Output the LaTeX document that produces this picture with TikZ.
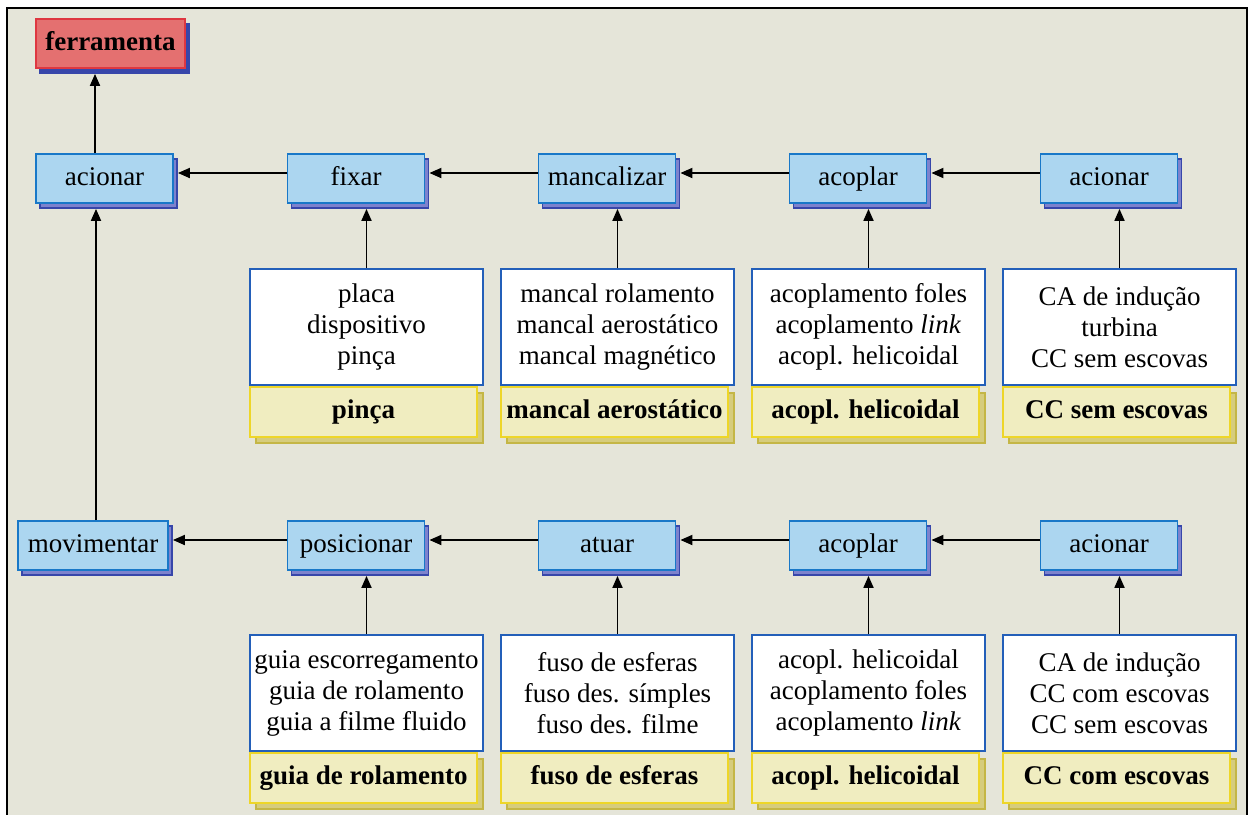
\documentclass[tikz,border=0pt]{standalone}
\usepackage{fontspec}
\setmainfont{Liberation Serif}
\usepackage{tikz}
\usetikzlibrary{positioning,arrows.meta,shadows}
\definecolor{paperc}{RGB}{229,229,217}
\definecolor{funcc}{RGB}{172,214,240}
\definecolor{funcline}{RGB}{25,120,200}
\definecolor{funcshade}{RGB}{125,130,205}
\definecolor{funcshadeline}{RGB}{55,70,170}
\definecolor{toolc}{RGB}{228,112,112}
\definecolor{toolline}{RGB}{222,55,65}
\definecolor{optline}{RGB}{35,95,185}
\definecolor{pickc}{RGB}{240,237,192}
\definecolor{pickline}{RGB}{238,214,40}
\definecolor{pickshade}{RGB}{214,204,125}
\definecolor{pickshadeline}{RGB}{196,182,70}
\tikzset{
  txt/.style      = {font=\fontsize{13.5}{15.5}\selectfont, align=center, inner sep=0pt},
  oneline/.style  = {text height=9.5pt, text depth=3pt},
  func/.style     = {txt, oneline, draw=funcline, line width=0.9pt, fill=funcc,
                     minimum width=68.5pt, minimum height=24.5pt,
                     copy shadow={shadow xshift=2pt, shadow yshift=-2.5pt,
                                  fill=funcshade, draw=funcshadeline, line width=0.8pt}},
  tool/.style     = {txt, oneline, font=\fontsize{13.5}{15.5}\selectfont\bfseries,
                     draw=toolline, line width=0.9pt, fill=toolc,
                     minimum width=74.5pt, minimum height=24.5pt,
                     copy shadow={shadow xshift=2pt, shadow yshift=-2.5pt,
                                  fill=funcshadeline, draw=funcshadeline}},
  options/.style  = {txt, draw=optline, line width=0.9pt, fill=white,
                     minimum width=116.5pt, minimum height=58pt},
  pick/.style     = {txt, oneline, font=\fontsize{13.5}{15.5}\selectfont\bfseries,
                     draw=pickline, line width=0.9pt, fill=pickc,
                     minimum width=113.5pt, minimum height=25pt, anchor=north west,
                     copy shadow={shadow xshift=3pt, shadow yshift=-3pt,
                                  fill=pickshade, draw=pickshadeline, line width=0.8pt}},
  flow/.style     = {-{Triangle[length=6pt,width=5pt]}, line width=0.9pt, black},
}
\begin{document}
\begin{tikzpicture}[x=0.5pt,y=-0.5pt]
\useasboundingbox (0,0) rectangle (1253,814);
\draw[line width=1pt, fill=paperc] (7,8) rectangle (1247,840);

% tool on top, two function chains below it: y = 178.5 (upper), 545.5 (lower)
\node[tool] (tool) at (110.5,43.5) {ferramenta};

\node[func] (aciA) at (104.5,178.5) {acionar};
\node[func] (fix)  at (356,178.5) {fixar};
\node[func] (mnc)  at (607,178.5) {mancalizar};
\node[func] (acpA) at (858,178.5) {acoplar};
\node[func] (aciB) at (1109,178.5) {acionar};

\node[func, minimum width=75pt] (mov) at (93,545.5) {movimentar};
\node[func] (pos)  at (356,545.5) {posicionar};
\node[func] (atu)  at (607,545.5) {atuar};
\node[func] (acpB) at (858,545.5) {acoplar};
\node[func] (aciC) at (1109,545.5) {acionar};

% solution lists, the chosen one underneath
\node[options] (fixopt)  at (366.5,327) {placa\\dispositivo\\pinça};
\node[options] (mncopt)  at (617.5,327) {mancal rolamento\\mancal aerostático\\mancal magnético};
\node[options] (acpoptA) at (868.5,327) {acoplamento foles\\acoplamento \emph{link}\\acopl. helicoidal};
\node[options] (acioptB) at (1119.5,327) {CA de indução\\turbina\\CC sem escovas};

\node[options] (posopt)  at (366.5,693) {guia escorregamento\\guia de rolamento\\guia a filme fluido};
\node[options] (atuopt)  at (617.5,693) {fuso de esferas\\fuso des. símples\\fuso des. filme};
\node[options] (acpoptB) at (868.5,693) {acopl. helicoidal\\acoplamento foles\\acoplamento \emph{link}};
\node[options] (acioptC) at (1119.5,693) {CA de indução\\CC com escovas\\CC sem escovas};

\node[pick] (fixsel)  at (fixopt.south west)  {pinça};
\node[pick] (mncsel)  at (mncopt.south west)  {mancal aerostático};
\node[pick] (acpselA) at (acpoptA.south west) {acopl. helicoidal};
\node[pick] (aciselB) at (acioptB.south west) {CC sem escovas};
\node[pick] (possel)  at (posopt.south west)  {guia de rolamento};
\node[pick] (atusel)  at (atuopt.south west)  {fuso de esferas};
\node[pick] (acpselB) at (acpoptB.south west) {acopl. helicoidal};
\node[pick] (aciselC) at (acioptC.south west) {CC com escovas};

% chains, right to left
\draw[flow, shorten >=2pt] ([yshift=2.75pt]fix.west)  -- ([yshift=2.75pt]aciA.east);
\draw[flow, shorten >=2pt] ([yshift=2.75pt]mnc.west)  -- ([yshift=2.75pt]fix.east);
\draw[flow, shorten >=2pt] ([yshift=2.75pt]acpA.west) -- ([yshift=2.75pt]mnc.east);
\draw[flow, shorten >=2pt] ([yshift=2.75pt]aciB.west) -- ([yshift=2.75pt]acpA.east);

\draw[flow, shorten >=2pt] ([yshift=2.75pt]pos.west)  -- ([yshift=2.75pt]mov.east);
\draw[flow, shorten >=2pt] ([yshift=2.75pt]atu.west)  -- ([yshift=2.75pt]pos.east);
\draw[flow, shorten >=2pt] ([yshift=2.75pt]acpB.west) -- ([yshift=2.75pt]atu.east);
\draw[flow, shorten >=2pt] ([yshift=2.75pt]aciC.west) -- ([yshift=2.75pt]acpB.east);

% up into the tool
\draw[flow, shorten >=2.5pt] ([xshift=-4.75pt]aciA.north) -- ([xshift=-4.75pt]aciA.north |- tool.south);
\draw[flow, shorten >=2.5pt] ([xshift=1.5pt]mov.north) -- ([xshift=1.5pt]mov.north |- aciA.south);

% lists feed their functions
\draw[flow, shorten >=2.5pt] (fixopt.north)  -- (fixopt.north |- fix.south);
\draw[flow, shorten >=2.5pt] (mncopt.north)  -- (mncopt.north |- mnc.south);
\draw[flow, shorten >=2.5pt] (acpoptA.north) -- (acpoptA.north |- acpA.south);
\draw[flow, shorten >=2.5pt] (acioptB.north) -- (acioptB.north |- aciB.south);
\draw[flow, shorten >=2.5pt] (posopt.north)  -- (posopt.north |- pos.south);
\draw[flow, shorten >=2.5pt] (atuopt.north)  -- (atuopt.north |- atu.south);
\draw[flow, shorten >=2.5pt] (acpoptB.north) -- (acpoptB.north |- acpB.south);
\draw[flow, shorten >=2.5pt] (acioptC.north) -- (acioptC.north |- aciC.south);

\end{tikzpicture}
\end{document}
